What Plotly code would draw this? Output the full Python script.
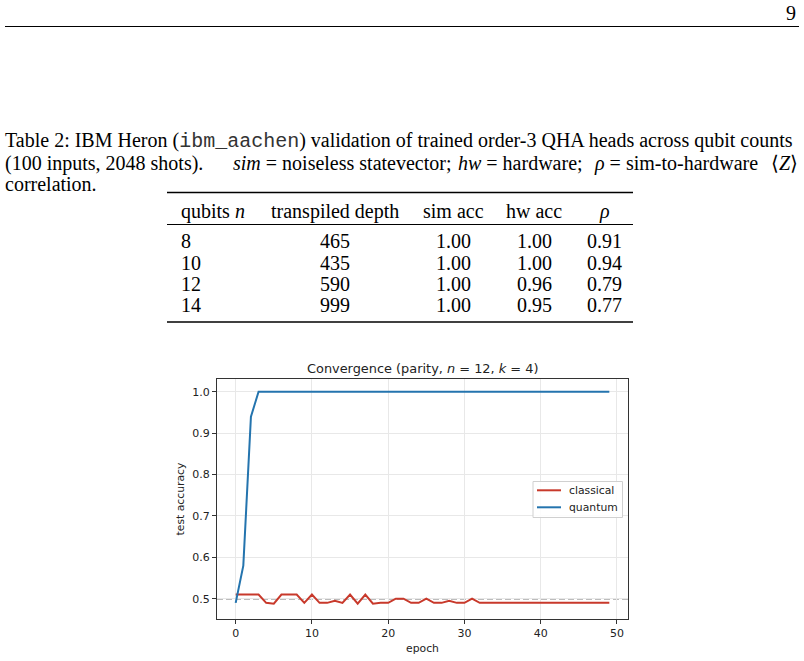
import plotly.graph_objects as go

# ---------------- data ----------------
epochs = list(range(50))
classical = [0.51, 0.51, 0.51, 0.51, 0.49, 0.488, 0.51, 0.51, 0.51, 0.49,
             0.51, 0.49, 0.49, 0.495, 0.49, 0.51, 0.488, 0.51, 0.488, 0.49,
             0.49, 0.50, 0.50, 0.49, 0.49, 0.50, 0.49, 0.49, 0.495, 0.49,
             0.49, 0.50, 0.49, 0.49, 0.49, 0.49, 0.49, 0.49, 0.49, 0.49,
             0.49, 0.49, 0.49, 0.49, 0.49, 0.49, 0.49, 0.49, 0.49, 0.49]
quantum = [0.49, 0.58, 0.94, 1.0, 1.0, 1.0, 1.0, 1.0, 1.0, 1.0,
           1.0, 1.0, 1.0, 1.0, 1.0, 1.0, 1.0, 1.0, 1.0, 1.0,
           1.0, 1.0, 1.0, 1.0, 1.0, 1.0, 1.0, 1.0, 1.0, 1.0,
           1.0, 1.0, 1.0, 1.0, 1.0, 1.0, 1.0, 1.0, 1.0, 1.0,
           1.0, 1.0, 1.0, 1.0, 1.0, 1.0, 1.0, 1.0, 1.0, 1.0]
series_names = ["classical", "quantum"]
series_colors = ["#c8392b", "#2474ae"]
chance_level = 0.5
x_ticks = [0, 10, 20, 30, 40, 50]
y_ticks = [0.5, 0.6, 0.7, 0.8, 0.9, 1.0]
y_tick_text = ["0.5", "0.6", "0.7", "0.8", "0.9", "1.0"]

table_header = ["qubits <i>n</i>", "transpiled depth", "sim acc", "hw acc", "<i>ρ</i>"]
qubits = ["8", "10", "12", "14"]
depth = ["465", "435", "590", "999"]
sim_acc = ["1.00", "1.00", "1.00", "1.00"]
hw_acc = ["1.00", "1.00", "0.96", "0.95"]
rho = ["0.91", "0.94", "0.79", "0.77"]

page_number = "9"
caption_1 = ("Table 2: IBM Heron (<span style=\"font-family:'Liberation Mono';color:#333\">ibm_aachen</span>) "
             "validation of trained order-3 QHA heads across qubit counts")
caption_2 = ["(100 inputs, 2048 shots).",
             "<i>sim</i> = noiseless statevector;",
             "<i>hw</i> = hardware;",
             "<i>ρ</i> = sim-to-hardware",
             "⟨<i>Z</i>⟩"]
caption_3 = "correlation."

# ---------------- layout helpers ----------------
W, H = 804, 661
L, R, T, B = 217, 628, 379, 619


def px(x):
    return (x - L) / (R - L)


def py(y):
    return (B - y) / (B - T)


SERIF = "Liberation Serif"
SANS = "DejaVu Sans"
TXT = "#222"

fig = go.Figure()
for name, vals, col in zip(series_names, [classical, quantum], series_colors):
    fig.add_trace(go.Scatter(x=epochs, y=vals, mode="lines", name=name,
                             line=dict(color=col, width=2), showlegend=False))

ann = []


def text(x, y, s, size=20, family=SERIF, xanchor="left", color="black"):
    ann.append(dict(x=px(x), y=py(y), xref="paper", yref="paper", text=s,
                    showarrow=False, xanchor=xanchor, yanchor="middle",
                    font=dict(family=family, size=size, color=color)))


# page header
text(798, 13, page_number, xanchor="right")
# caption
text(3, 141, caption_1)
text(3, 163, caption_2[0])
text(231, 163, caption_2[1])
text(456, 163, caption_2[2])
text(592, 163, caption_2[3])
text(800, 163, caption_2[4], xanchor="right")
text(3, 184, caption_3)

# table
col_x = [181, 335, 453, 534, 604]
col_anchor = ["left", "center", "center", "center", "center"]
for cx, ca, h in zip(col_x, col_anchor, table_header):
    text(cx - (2 if ca == "left" else 0), 211, h, xanchor=ca)
row_y = [241.5, 262.5, 283.5, 304.5]
for i, ry in enumerate(row_y):
    vals = [qubits[i], depth[i], sim_acc[i], hw_acc[i], rho[i]]
    for cx, ca, v in zip(col_x, col_anchor, vals):
        text(cx - (2 if ca == "left" else 0), ry, v, xanchor=ca)

# chart title
text(422.5, 368, "Convergence (parity, <i>n</i> = 12, <i>k</i> = 4)", size=12.9,
     family=SANS, xanchor="center", color=TXT)

shapes = [
    dict(type="line", xref="paper", yref="paper", x0=px(5), x1=px(799), y0=py(26.5), y1=py(26.5),
         line=dict(color="black", width=1)),
    dict(type="line", xref="paper", yref="paper", x0=px(167), x1=px(633), y0=py(192.5), y1=py(192.5),
         line=dict(color="black", width=1.6)),
    dict(type="line", xref="paper", yref="paper", x0=px(167), x1=px(633), y0=py(224.5), y1=py(224.5),
         line=dict(color="black", width=1)),
    dict(type="line", xref="paper", yref="paper", x0=px(167), x1=px(633), y0=py(322), y1=py(322),
         line=dict(color="black", width=1.6)),
    dict(type="line", xref="paper", yref="y", x0=0, x1=1, y0=chance_level, y1=chance_level,
         line=dict(color="#7a7a7a", width=1.6, dash="6px,3px"), layer="below"),
]

# legend (frame, handles, labels)
leg_x0, leg_x1, leg_y0, leg_y1 = 533, 622.5, 481.5, 517.5
shapes.append(dict(type="rect", xref="paper", yref="paper",
                   x0=px(leg_x0), x1=px(leg_x1), y0=py(leg_y1), y1=py(leg_y0),
                   line=dict(color="#d0d0d0", width=1), fillcolor="rgba(255,255,255,0.85)"))
for name, col, ly in zip(series_names, series_colors, [490.3, 507.3]):
    shapes.append(dict(type="line", xref="paper", yref="paper", x0=px(537), x1=px(561),
                       y0=py(ly), y1=py(ly), line=dict(color=col, width=2)))
    text(566.5, ly, name, size=10.8, family=SANS, color=TXT)

axis_common = dict(showline=True, linecolor="#333", linewidth=1, mirror=True,
                   ticks="outside", ticklen=4, tickcolor="#333", tickwidth=1,
                   showgrid=True, gridcolor="#e8e8e8", gridwidth=0.8, zeroline=False,
                   automargin=False,
                   tickfont=dict(family=SANS, size=11, color=TXT))

fig.update_layout(
    width=W, height=H,
    margin=dict(l=L, r=W - R, t=T, b=H - B, pad=0),
    paper_bgcolor="white", plot_bgcolor="white",
    showlegend=False,
    xaxis=dict(range=[-2.45, 51.45], tickvals=x_ticks,
               title=dict(text="epoch", font=dict(family=SANS, size=10.8, color=TXT), standoff=5),
               **axis_common),
    yaxis=dict(range=[0.451, 1.031], tickvals=y_ticks, ticktext=y_tick_text,
               title=dict(text="test accuracy", font=dict(family=SANS, size=10.8, color=TXT), standoff=5),
               **axis_common),
    annotations=ann,
    shapes=shapes,
)

fig.write_html("out.html")
